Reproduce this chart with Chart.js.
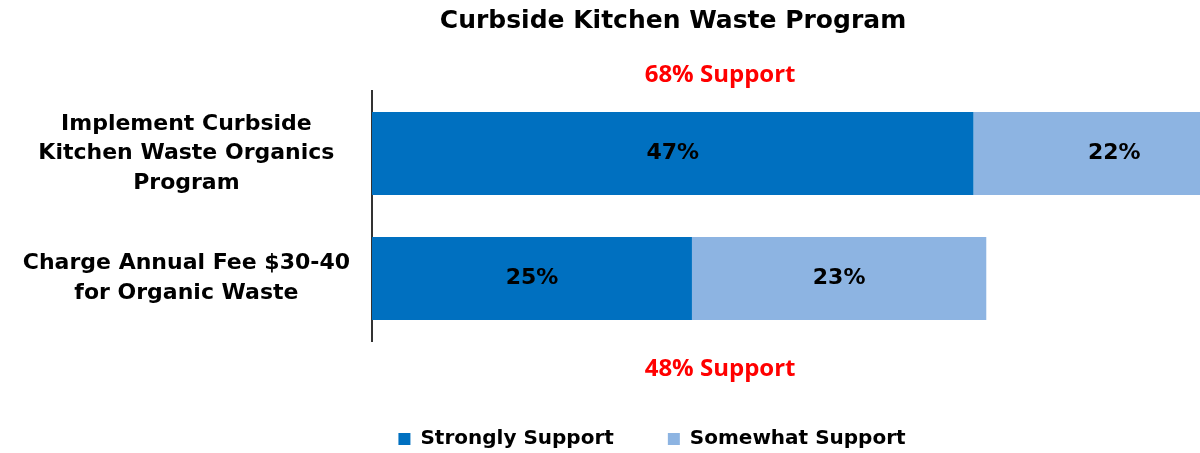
<!DOCTYPE html>
<html>
<head>
<meta charset="utf-8">
<script src="https://cdn.jsdelivr.net/npm/chart.js@4"></script>
<style>
  body { margin: 0; background: #fff; }
  #wrap { width: 1200px; height: 453px; }
</style>
</head>
<body>
<div id="wrap"><canvas id="mainChart"></canvas></div>
<script>
var categories = [
    ["Implement Curbside", "Kitchen Waste Organics", "Program"],
    ["Charge Annual Fee $30-40", "for Organic Waste"]
];
var stronglySupport = [47, 25];
var somewhatSupport = [22, 23];
var supportTotals = ["68% Support", "48% Support"];
var xMax = 64.7;

// percent labels inside bars, red totals above / below, title
var labelPlugin = {
    id: "barLabels",
    afterLayout: function (chart) {
        // legend sits a bit right of the canvas centre
        chart.legend.left += 52;
        chart.legend.right += 52;
    },
    afterDraw: function (chart) {
        var ctx = chart.ctx;
        ctx.save();
        ctx.textAlign = "center";
        ctx.textBaseline = "middle";

        ctx.fillStyle = "#000";
        ctx.font = "bold 25px 'DejaVu Sans'";
        ctx.fillText("Curbside Kitchen Waste Program", 673, 21);

        ctx.font = "bold 22px 'DejaVu Sans'";
        chart.data.datasets.forEach(function (ds, i) {
            chart.getDatasetMeta(i).data.forEach(function (bar, j) {
                ctx.fillText(ds.data[j] + "%", (bar.x + bar.base) / 2, bar.y);
            });
        });

        var bars = chart.getDatasetMeta(0).data;
        var tx = chart.scales.x.getPixelForValue(27.2);
        ctx.fillStyle = "#ff0000";
        ctx.font = "bold 24px 'Open Sans'";
        ctx.fillText(supportTotals[0], tx, bars[0].y - bars[0].height / 2 - 37);
        ctx.fillText(supportTotals[1], tx, bars[1].y + bars[1].height / 2 + 49);
        ctx.restore();
    }
};

var ctx = document.getElementById("mainChart").getContext("2d");
var myChart = new Chart(ctx, {
    type: "bar",
    data: {
        labels: categories,
        datasets: [
            {
                label: "Strongly Support",
                data: stronglySupport,
                backgroundColor: "#0070C0",
                borderWidth: 0,
                barPercentage: 0.664,
                categoryPercentage: 1,
            },
            {
                label: "Somewhat Support",
                data: somewhatSupport,
                backgroundColor: "#8DB4E2",
                borderWidth: 0,
                barPercentage: 0.664,
                categoryPercentage: 1,
            },
        ],
    },
    options: {
        indexAxis: "y",
        responsive: true,
        maintainAspectRatio: false,
        animation: false,
        layout: {
            padding: { top: 91, left: 0, right: 0, bottom: -6 }
        },
        scales: {
            x: {
                stacked: true,
                min: 0,
                max: xMax,
                grid: { display: false },
                border: { display: false },
                ticks: { display: false },
                afterFit: function (s) { s.height = 34; }
            },
            y: {
                stacked: true,
                grid: { display: false },
                border: { color: "#333", width: 2 },
                ticks: {
                    color: "#000",
                    crossAlign: "center",
                    padding: 14,
                    font: { family: "DejaVu Sans", weight: "bold", size: 22, lineHeight: 1.35 }
                },
                afterFit: function (s) { s.width = 372; }
            }
        },
        plugins: {
            legend: {
                position: "bottom",
                labels: {
                    color: "#000",
                    boxWidth: 12,
                    boxHeight: 12,
                    padding: 54,
                    font: { family: "DejaVu Sans", weight: "bold", size: 20 }
                }
            },
            tooltip: { enabled: false }
        },
    },
    plugins: [labelPlugin]
});
</script>
</body>
</html>
